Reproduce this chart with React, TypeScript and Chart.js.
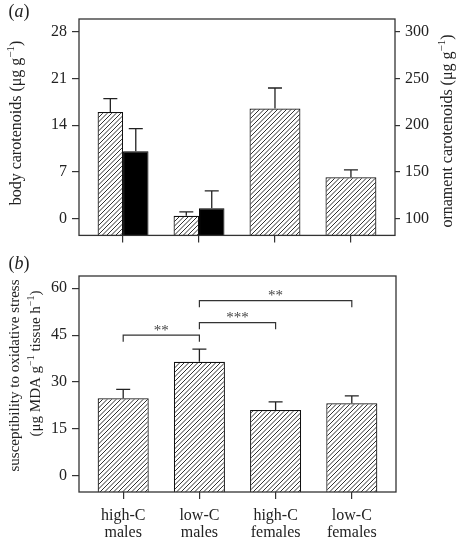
import React, { useEffect, useRef } from 'react';
import { Chart, registerables } from 'chart.js';

Chart.register(...registerables);

const FONT = '"Liberation Serif", "Times New Roman", serif';
const INK = '#222';

// ---- shared categories ----
const categoryIndex = [0, 1, 2, 3];
const categoryLines = [
  ['high-C', 'males'],
  ['low-C', 'males'],
  ['high-C', 'females'],
  ['low-C', 'females'],
];

// ---- panel (a) ----
const bodyCarotenoids = [16.0, 0.4, 16.5, 6.2];
const bodyCarotenoidsSE = [2.0, 0.6, 3.1, 1.1];
const ornamentCarotenoids = [172, 111, null, null];
const ornamentCarotenoidsSE = [24.5, 18.7, null, null];
const bodyTicks = [0, 7, 14, 21, 28];
const ornamentTicks = [100, 150, 200, 250, 300];
const BODY_MIN = -2.54;
const BODY_MAX = 29.96;
const ORN_MIN = 81.86;
const ORN_MAX = 314.0;

// ---- panel (b) ----
const oxidativeStress = [24.8, 36.5, 21.1, 23.2];
const oxidativeStressSE = [2.9, 4.0, 2.6, 2.4];
const stressTicks = [0, 15, 30, 45, 60];
const STRESS_MIN = -5.11;
const STRESS_MAX = 63.88;
const bracketFrom = [0, 1, 1];
const bracketTo = [1, 2, 3];
const bracketLevel = [45, 49, 56];
const bracketLabel = ['**', '***', '**'];

const X_MIN = -0.58;
const X_MAX = 3.58;

type Seg = { t: string; sup?: boolean; it?: boolean };

function drawRich(ctx: CanvasRenderingContext2D, segs: Seg[], cx: number, cy: number, size: number, color = INK) {
  const fontFor = (s: Seg) => `${s.it ? 'italic ' : ''}${s.sup ? Math.round(size * 0.68) : size}px ${FONT}`;
  let w = 0;
  for (const s of segs) {
    ctx.font = fontFor(s);
    w += ctx.measureText(s.t).width;
  }
  let x = cx - w / 2;
  ctx.fillStyle = color;
  ctx.textAlign = 'left';
  ctx.textBaseline = 'middle';
  for (const s of segs) {
    ctx.font = fontFor(s);
    ctx.fillText(s.t, x, s.sup ? cy - size * 0.36 : cy);
    x += ctx.measureText(s.t).width;
  }
}

function drawRotated(ctx: CanvasRenderingContext2D, segs: Seg[], cx: number, cy: number, size: number) {
  ctx.save();
  ctx.translate(cx, cy);
  ctx.rotate(-Math.PI / 2);
  drawRich(ctx, segs, 0, 0, size);
  ctx.restore();
}

function makeHatch(): CanvasPattern | string {
  const s = 9;
  const c = document.createElement('canvas');
  c.width = s;
  c.height = s;
  const g = c.getContext('2d');
  if (!g) return '#fff';
  g.fillStyle = '#fff';
  g.fillRect(0, 0, s, s);
  g.strokeStyle = '#1a1a1a';
  g.lineWidth = 0.9;
  for (const o of [-9, -4.5, 0, 4.5, 9]) {
    g.beginPath();
    g.moveTo(o, s);
    g.lineTo(o + s, 0);
    g.stroke();
  }
  return g.createPattern(c, 'repeat') || '#fff';
}

const errorBarPlugin = {
  id: 'errorBars',
  afterDatasetsDraw(chart: any) {
    const ctx = chart.ctx;
    chart.data.datasets.forEach((ds: any, di: number) => {
      const meta = chart.getDatasetMeta(di);
      const scale = chart.scales[meta.yAxisID];
      meta.data.forEach((bar: any, i: number) => {
        const pt = ds.data[i];
        const v = pt ? pt.y : null;
        const e = ds.errors ? ds.errors[i] : null;
        if (v == null || e == null) return;
        const yTop = scale.getPixelForValue(v + e);
        ctx.save();
        ctx.strokeStyle = INK;
        ctx.lineWidth = 1.3;
        ctx.beginPath();
        ctx.moveTo(bar.x, bar.y);
        ctx.lineTo(bar.x, yTop);
        ctx.moveTo(bar.x - 7, yTop);
        ctx.lineTo(bar.x + 7, yTop);
        ctx.stroke();
        ctx.restore();
      });
    });
  },
};

const boxPlugin = {
  id: 'box',
  afterDraw(chart: any) {
    const { ctx, chartArea: a } = chart;
    ctx.save();
    ctx.strokeStyle = '#333';
    ctx.lineWidth = 1.3;
    ctx.strokeRect(a.left, a.top, a.right - a.left, a.bottom - a.top);
    ctx.restore();
  },
};

const tickFont = { family: FONT, size: 16 };
const gridStyle = (len: number) => ({
  display: true,
  drawOnChartArea: false,
  drawTicks: true,
  tickLength: len,
  color: '#333',
  lineWidth: 1.2,
});

function xScale(labels: boolean, height: number) {
  return {
    type: 'linear',
    min: X_MIN,
    max: X_MAX,
    offset: false,
    grid: { ...gridStyle(7), offset: false },
    border: { display: false },
    afterBuildTicks: (s: any) => {
      s.ticks = categoryIndex.map((v) => ({ value: v }));
    },
    afterFit: (s: any) => {
      s.height = height;
    },
    ticks: {
      autoSkip: false,
      maxRotation: 0,
      minRotation: 0,
      padding: 9,
      color: INK,
      font: { ...tickFont, lineHeight: 1.03 },
      callback: (v: any) => (labels ? categoryLines[v] : ''),
    },
  };
}

function yScale(min: number, max: number, ticks: number[], position: string, width: number, tickLen: number, pad: number) {
  return {
    type: 'linear',
    position,
    min,
    max,
    grid: gridStyle(tickLen),
    border: { display: false },
    afterBuildTicks: (s: any) => {
      s.ticks = ticks.map((v) => ({ value: v }));
    },
    afterFit: (s: any) => {
      s.width = width;
    },
    ticks: { autoSkip: false, padding: pad, color: INK, font: tickFont },
  };
}

export default function App() {
  const topRef = useRef<HTMLCanvasElement>(null);
  const botRef = useRef<HTMLCanvasElement>(null);

  useEffect(() => {
    const hatch = makeHatch();

    const titlesTop = {
      id: 'titlesTop',
      afterDraw(chart: any) {
        const ctx = chart.ctx;
        drawRich(ctx, [{ t: '(' }, { t: 'a', it: true }, { t: ')' }], 19, 12.5, 18);
        drawRotated(ctx, [{ t: 'body carotenoids (μg g' }, { t: '−1', sup: true }, { t: ')' }], 17, 123, 16);
        drawRotated(ctx, [{ t: 'ornament carotenoids (μg g' }, { t: '−1', sup: true }, { t: ')' }], 448, 131, 16);
      },
    };

    const titlesBottom = {
      id: 'titlesBottom',
      afterDraw(chart: any) {
        const ctx = chart.ctx;
        drawRich(ctx, [{ t: '(' }, { t: 'b', it: true }, { t: ')' }], 19, 14, 18);
        drawRotated(ctx, [{ t: 'susceptibility to oxidative stress' }], 15, 125.5, 15);
        drawRotated(
          ctx,
          [{ t: '(μg MDA g' }, { t: '−1', sup: true }, { t: ' tissue h' }, { t: '−1', sup: true }, { t: ')' }],
          36.5,
          113.5,
          15
        );
      },
    };

    const bracketPlugin = {
      id: 'brackets',
      afterDatasetsDraw(chart: any) {
        const ctx = chart.ctx;
        const xs = chart.scales.x;
        const ys = chart.scales.y;
        bracketLevel.forEach((lvl, k) => {
          const x1 = xs.getPixelForValue(bracketFrom[k]);
          const x2 = xs.getPixelForValue(bracketTo[k]);
          const y = ys.getPixelForValue(lvl);
          const yd = ys.getPixelForValue(lvl - 2.1);
          ctx.save();
          ctx.strokeStyle = '#333';
          ctx.lineWidth = 1.2;
          ctx.beginPath();
          ctx.moveTo(x1, yd);
          ctx.lineTo(x1, y);
          ctx.lineTo(x2, y);
          ctx.lineTo(x2, yd);
          ctx.stroke();
          ctx.fillStyle = '#444';
          ctx.font = `15px ${FONT}`;
          ctx.textAlign = 'center';
          ctx.textBaseline = 'alphabetic';
          ctx.fillText(bracketLabel[k], (x1 + x2) / 2, y - 0.5);
          ctx.restore();
        });
      },
    };

    const common = {
      responsive: false,
      animation: false,
      events: [],
      plugins: { legend: { display: false }, tooltip: { enabled: false } },
    };

    const top = new Chart(topRef.current as HTMLCanvasElement, {
      type: 'bar',
      data: {
        datasets: [
          {
            label: 'body carotenoids',
            data: categoryIndex.map((x, i) => ({ x, y: bodyCarotenoids[i] })),
            errors: bodyCarotenoidsSE,
            yAxisID: 'y',
            base: BODY_MIN,
            backgroundColor: hatch,
            borderColor: '#111',
            borderWidth: 1.2,
            skipNull: true,
            categoryPercentage: 0.67,
            barPercentage: 1,
          } as any,
          {
            label: 'ornament carotenoids',
            data: categoryIndex.map((x, i) => ({ x, y: ornamentCarotenoids[i] })),
            errors: ornamentCarotenoidsSE,
            yAxisID: 'y2',
            base: ORN_MIN,
            backgroundColor: '#000',
            borderColor: '#000',
            borderWidth: 1,
            skipNull: true,
            categoryPercentage: 0.67,
            barPercentage: 1,
          } as any,
        ],
      },
      options: {
        ...common,
        layout: { padding: { top: 19, bottom: 0, left: 0, right: 0 } },
        scales: {
          x: xScale(false, 13),
          y: yScale(BODY_MIN, BODY_MAX, bodyTicks, 'left', 79, 7, 5),
          y2: yScale(ORN_MIN, ORN_MAX, ornamentTicks, 'right', 65, 5, 5),
        },
      } as any,
      plugins: [errorBarPlugin, boxPlugin, titlesTop],
    });

    const bottom = new Chart(botRef.current as HTMLCanvasElement, {
      type: 'bar',
      data: {
        datasets: [
          {
            label: 'susceptibility to oxidative stress',
            data: categoryIndex.map((x, i) => ({ x, y: oxidativeStress[i] })),
            errors: oxidativeStressSE,
            yAxisID: 'y',
            base: STRESS_MIN,
            backgroundColor: hatch,
            borderColor: '#111',
            borderWidth: 1.2,
            categoryPercentage: 0.67,
            barPercentage: 1,
          } as any,
        ],
      },
      options: {
        ...common,
        layout: { padding: { top: 26, bottom: 0, left: 0, right: 64 } },
        scales: {
          x: xScale(true, 52),
          y: yScale(STRESS_MIN, STRESS_MAX, stressTicks, 'left', 79, 7, 5),
        },
      } as any,
      plugins: [errorBarPlugin, bracketPlugin, boxPlugin, titlesBottom],
    });

    return () => {
      top.destroy();
      bottom.destroy();
    };
  }, []);

  return (
    <div style={{ position: 'absolute', left: 0, top: 0, width: 460, height: 544, background: '#fff' }}>
      <canvas ref={topRef} width={460} height={250} style={{ display: 'block', position: 'absolute', left: 0, top: 0 }} />
      <canvas ref={botRef} width={460} height={294} style={{ display: 'block', position: 'absolute', left: 0, top: 250 }} />
    </div>
  );
}
